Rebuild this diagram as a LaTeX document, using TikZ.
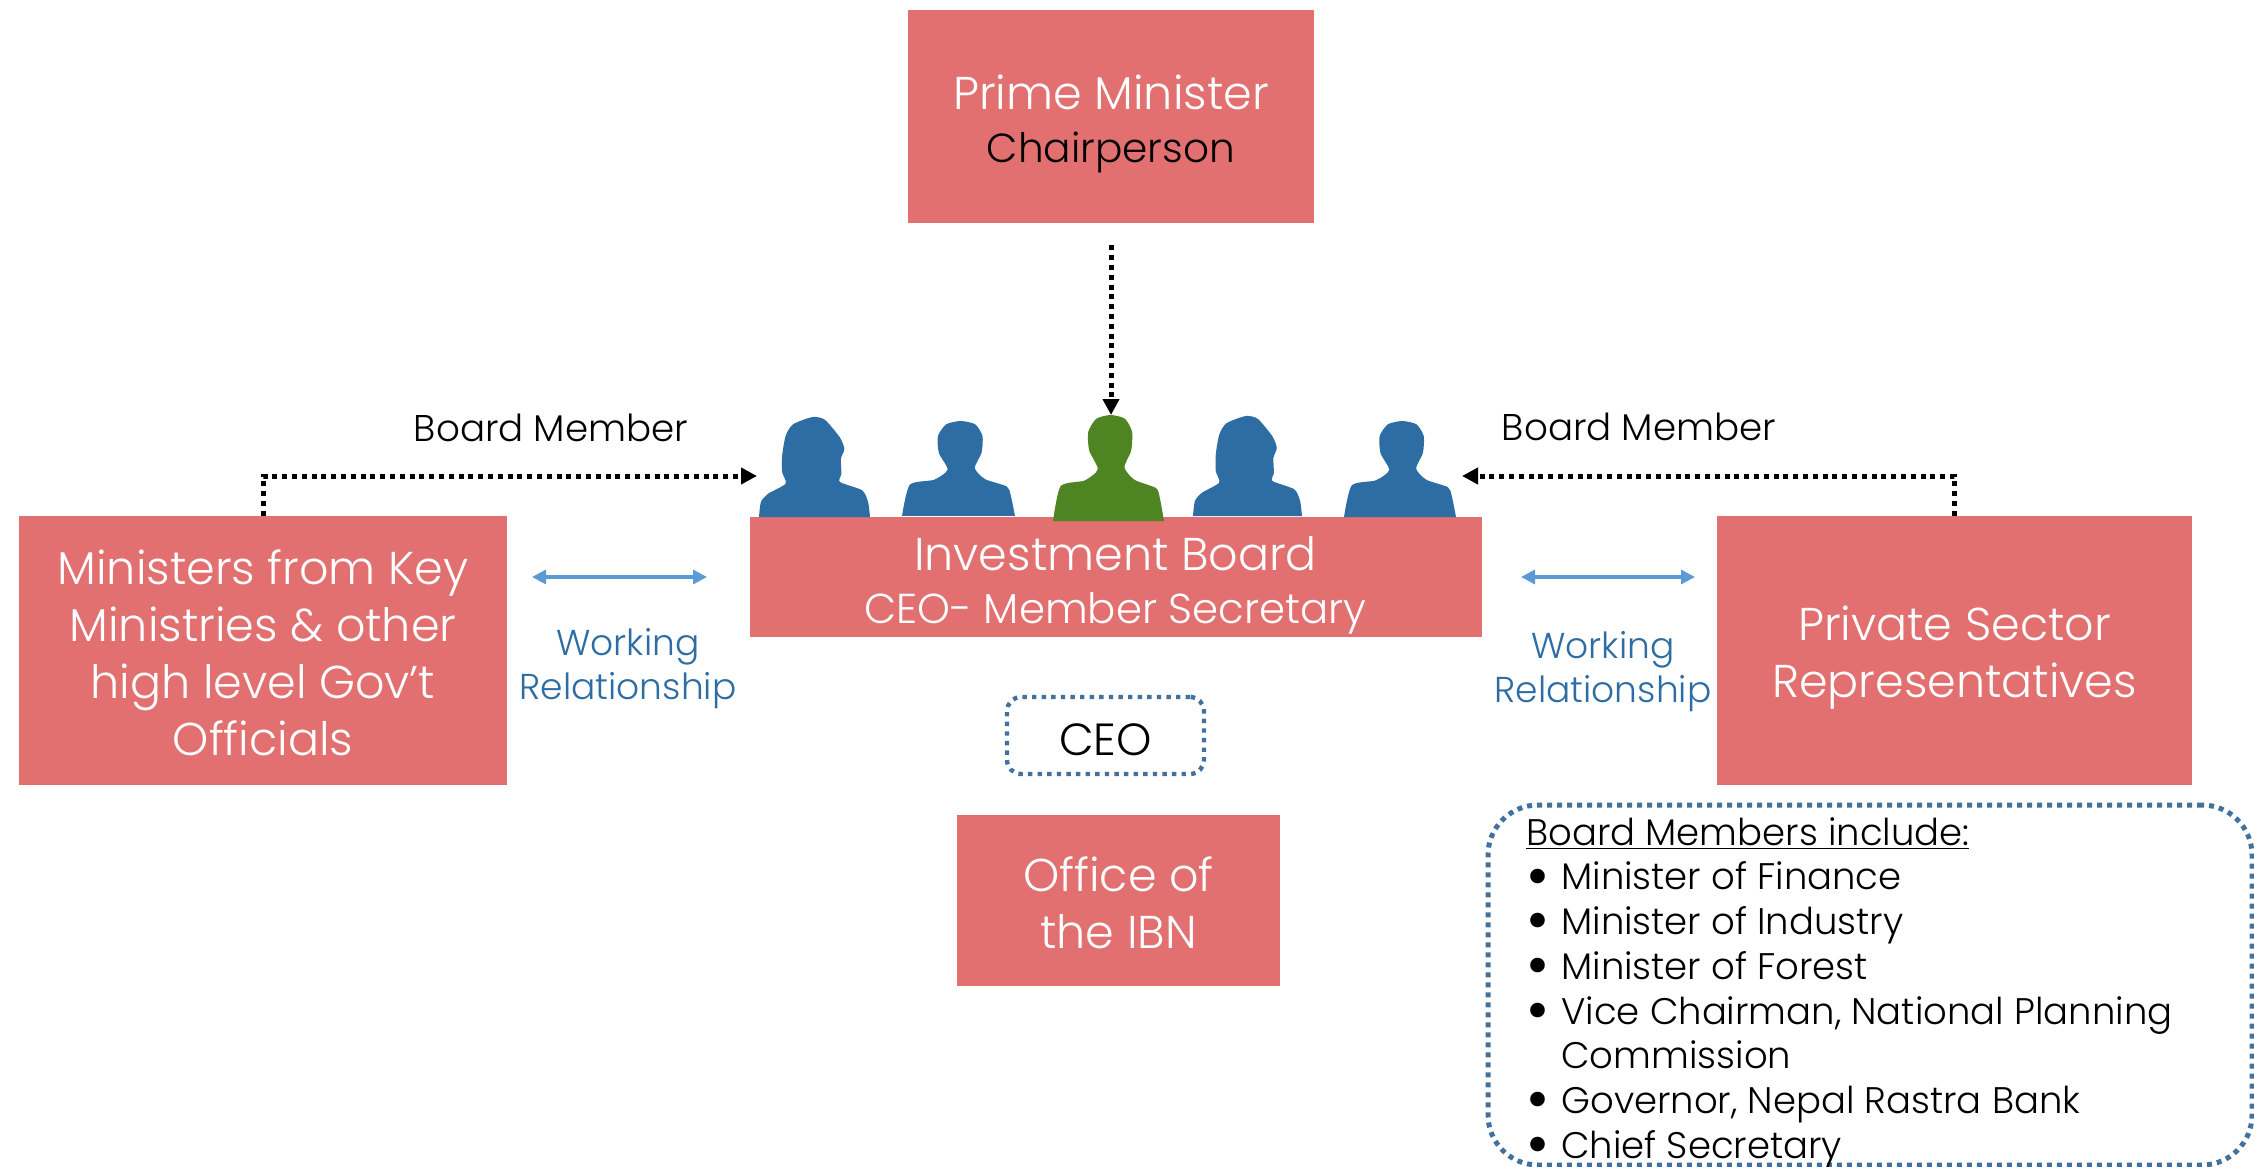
\documentclass[tikz,border=0pt]{standalone}
\usepackage{fontspec}
\usepackage{graphicx}
\setmainfont{Poppins Light}
\usetikzlibrary{arrows.meta,calc}
\definecolor{boxred}{RGB}{226,112,112}
\definecolor{silblue}{RGB}{46,109,164}
\definecolor{silgreen}{RGB}{78,133,34}
\definecolor{dotblue}{RGB}{65,113,156}
\definecolor{arrblue}{RGB}{91,155,213}
\definecolor{lblblue}{RGB}{46,109,164}
\newcommand{\ManShape}[5]{\begin{scope}[shift={(#1,#2)},x={#3*0.5pt/233},y={-#4*0.5pt/283}]
\fill[#5] (0,283) -- plot[smooth,tension=0.4] coordinates {(0,283)(16,190)(66,175)(94,145)(76,95)(74,45)(91,10)(121,0)(151,10)(166,45)(164,95)(150,140)(171,173)(216,195)(224,220)(233,283)} -- cycle;
\end{scope}}
\newcommand{\WomanShape}[5]{\begin{scope}[shift={(#1,#2)},x={#3*0.5pt/225},y={-#4*0.5pt/303}]
\fill[#5] (0,303) -- plot[smooth,tension=0.4] coordinates {(0,303)(4,257)(19,232)(54,202)(47,167)(47,117)(54,57)(69,22)(109,0)(134,9)(164,62)(173,97)(166,127)(167,172)(164,197)(209,222)(221,257)(225,303)} -- cycle;
\end{scope}}
\newcommand{\bul}{\makebox[17.5pt][l]{\raisebox{-3.6pt}{\scalebox{1.7}{\textbullet}}}}
\newcommand{\dn}[1]{\setbox0\hbox{lf}\rule{0pt}{\dimexpr\ht0+#1\relax}}
\tikzset{
 redbox/.style={fill=boxred,text=white,inner sep=0pt,align=center,font=\fontsize{23}{28.5}\selectfont},
 lab/.style={inner sep=0pt,align=center,font=\fontsize{18.6}{21.5}\selectfont},
 wlab/.style={inner sep=0pt,align=center,text=lblblue,font=\fontsize{18}{22}\selectfont},
 dotline/.style={draw=black,line width=2.5pt,dash pattern=on 2.5pt off 2.4pt,-{Triangle[length=8pt,width=8pt]}},
 workarrow/.style={draw=arrblue,line width=1.6pt,{Triangle[length=7pt,width=7pt]}-{Triangle[length=7pt,width=7pt]}},
 dotbox/.style={draw=dotblue,line width=2.2pt,dash pattern=on 2.2pt off 2.6pt,inner sep=0pt}
}
\begin{document}
\begin{tikzpicture}[x=0.5pt,y=-0.5pt]
\useasboundingbox (0,0) rectangle (2254,1167);
\node[redbox,minimum width=203pt,minimum height=106.5pt] (pm) at (1111,116.5) {\dn{7.2pt}Prime Minister\\[-2pt]{\color{black}\fontsize{20.3}{24}\selectfont Chairperson}};
\node[redbox,minimum width=244pt,minimum height=134.5pt] (min) at (263,650.5) {\dn{2.2pt}Ministers from Key\\Ministries \& other\\high level Gov’t\\Officials};
\node[redbox,minimum width=366pt,minimum height=60pt] (ib) at (1115.5,577) {\dn{7.9pt}Investment Board\\[-1.84pt]{\fontsize{20.9}{22}\selectfont CEO- Member Secretary}};
\node[redbox,minimum width=237.5pt,minimum height=134.5pt] (ps) at (1954.5,650.5) {\dn{7.2pt}Private Sector\\Representatives};
\node[redbox,minimum width=161.5pt,minimum height=85.5pt] (off) at (1118.5,900.5) {\dn{2.2pt}Office of\\the IBN};
\node[dotbox,rounded corners=7pt,minimum width=98.5pt,minimum height=38.5pt,font=\fontsize{22.5}{26}\selectfont] (ceo) at (1105.5,735.5) {\dn{2.9pt}CEO};
\WomanShape{759}{417}{111}{100}{silblue}
\ManShape{902}{421}{113}{95}{silblue}
\ManShape{1053}{415}{111}{106}{silgreen}
\WomanShape{1193}{416}{109}{100}{silblue}
\ManShape{1344}{421}{112}{96}{silblue}
\coordinate (greentop) at (1111,415);
\coordinate (ltarget) at (757,476);
\coordinate (rtarget) at (1462,476);
\coordinate (wl1) at (532,577);
\coordinate (wl2) at (707,577);
\coordinate (wr1) at (1521,577);
\coordinate (wr2) at (1695,577);
\draw[dotline,shorten <=11pt] (pm.south -| greentop) -- (greentop);
\draw[dotline] (min.north) |- (ltarget);
\draw[dotline] (ps.north) |- (rtarget);
\draw[workarrow] (wl1) -- (wl2);
\draw[workarrow] (wr1) -- (wr2);
\node[lab] (bml) at (551,428) {Board Member};
\node[lab] (bmr) at (1639,427) {Board Member};
\node[wlab] (wkl) at (628,669) {Working\\Relationship};
\node[wlab] (wkr) at (1603,672) {Working\\Relationship};
\node[dotbox,line width=2.5pt,dash pattern=on 2.5pt off 2.5pt,rounded corners=25pt,minimum width=382pt,minimum height=180pt] (bmbox) at (1870,985) {};
\node[anchor=north west,inner sep=0pt,align=left,font=\fontsize{18.5}{22.35}\selectfont] (bmtext) at (1526,817) {\underline{Board Members include:}\\
\bul Minister of Finance\\
\bul Minister of Industry\\
\bul Minister of Forest\\
\bul Vice Chairman, National Planning\\
\hspace*{17.5pt}Commission\\
\bul Governor, Nepal Rastra Bank\\
\bul Chief Secretary};
\end{tikzpicture}
\end{document}
